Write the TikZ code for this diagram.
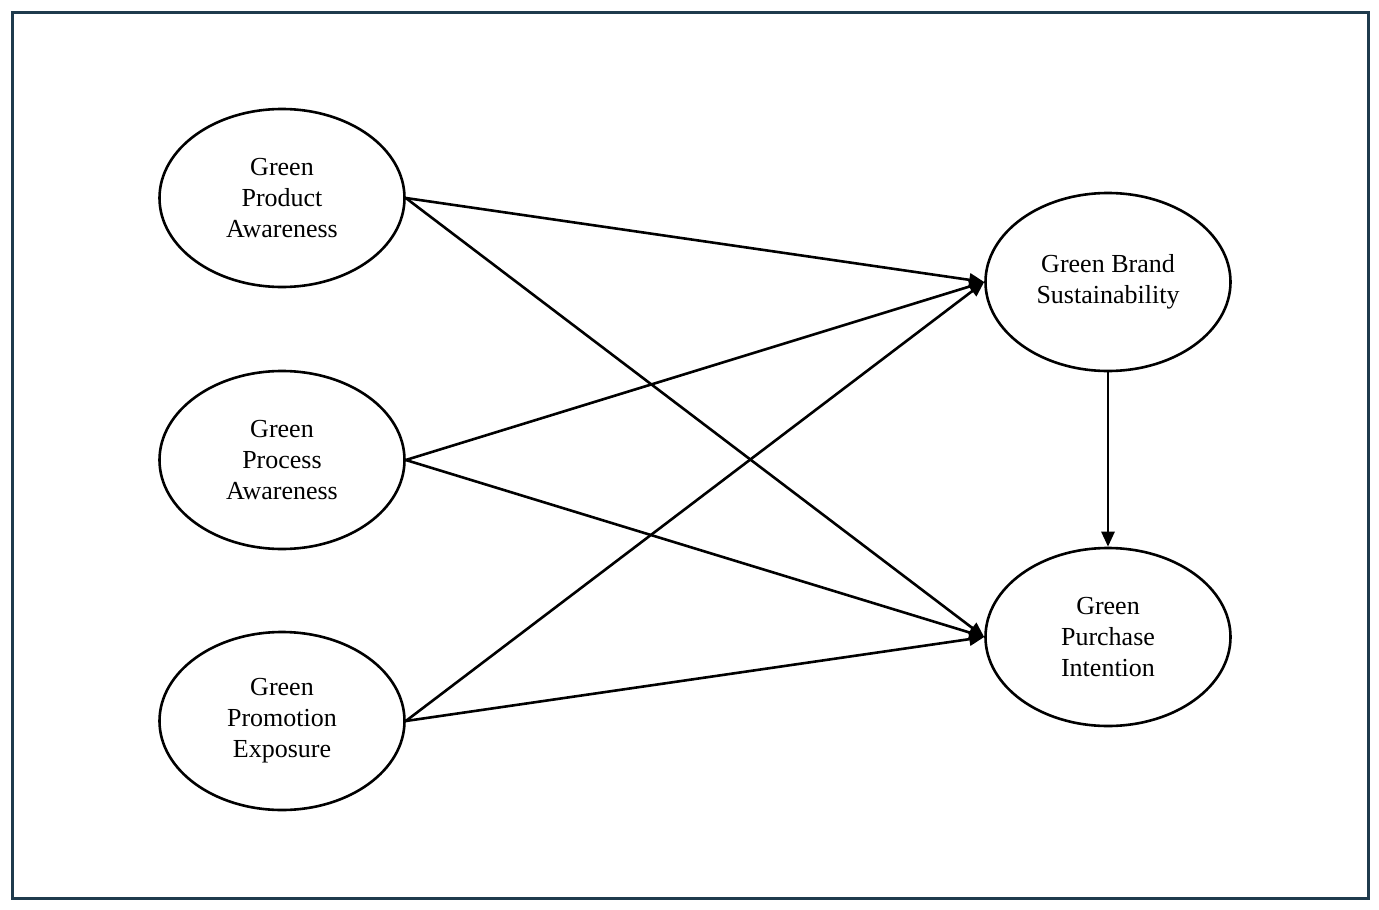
\documentclass[tikz,border=0pt]{standalone}
\usepackage{fontspec}
\setmainfont{Liberation Serif}
\usetikzlibrary{shapes.geometric,arrows.meta}
\definecolor{frame}{HTML}{1F3B4D}
\begin{document}
\begin{tikzpicture}[x=1pt,y=-1pt,
  construct/.style={draw=black,line width=2.6pt,ellipse,minimum width=245pt,minimum height=178pt,inner sep=0pt,align=center,font=\fontsize{26}{31}\selectfont},
  path/.style={line width=2.6pt,-{Triangle[length=15pt,width=13pt]}}]
\useasboundingbox (0,0) rectangle (1379,910);
\fill[white] (0,0) rectangle (1379,910);
\draw[frame,line width=3pt] (12,12) rectangle (1368,898);
\node[construct] (gpa) at (282,198) {Green\\Product\\Awareness};
\node[construct] (gpr) at (282,460) {Green\\Process\\Awareness};
\node[construct] (gpe) at (282,721) {Green\\Promotion\\Exposure};
\node[construct] (gbs) at (1108,282) {Green Brand\\Sustainability};
\node[construct] (gpi) at (1108,637) {Green\\Purchase\\Intention};
\draw[path] (gpa.east) -- (gbs.west);
\draw[path] (gpa.east) -- (gpi.west);
\draw[path] (gpr.east) -- (gbs.west);
\draw[path] (gpr.east) -- (gpi.west);
\draw[path] (gpe.east) -- (gbs.west);
\draw[path] (gpe.east) -- (gpi.west);
\draw[path] (gbs.south) -- (gpi.north);
\end{tikzpicture}
\end{document}
